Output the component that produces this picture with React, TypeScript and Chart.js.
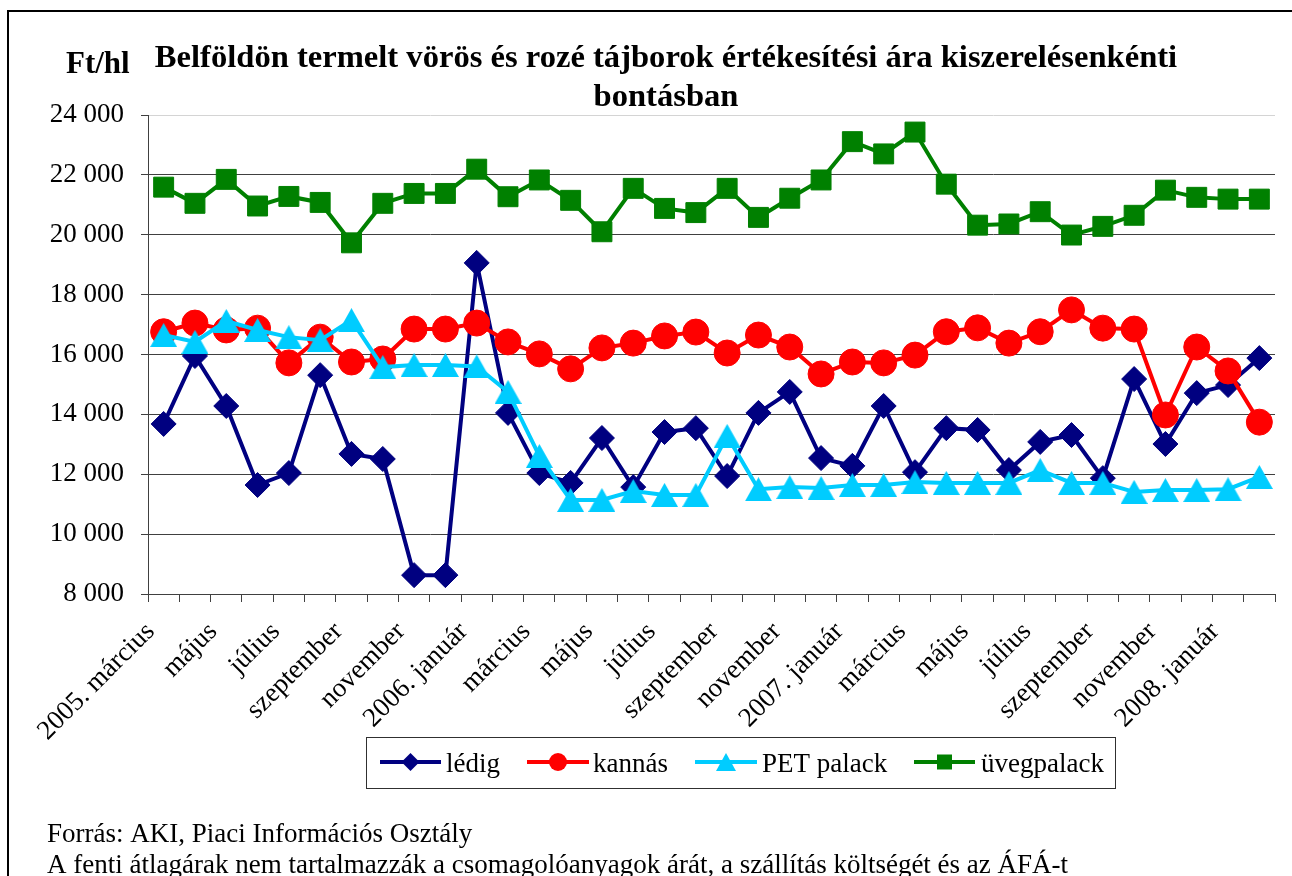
import React, { useEffect, useRef } from 'react';
import { Chart, registerables } from 'chart.js';

Chart.register(...registerables);

const categories = [
  '2005. március', 'április', 'május', 'június', 'július', 'augusztus', 'szeptember', 'október', 'november', 'december',
  '2006. január', 'február', 'március', 'április', 'május', 'június', 'július', 'augusztus', 'szeptember', 'október', 'november', 'december',
  '2007. január', 'február', 'március', 'április', 'május', 'június', 'július', 'augusztus', 'szeptember', 'október', 'november', 'december',
  '2008. január', 'február',
];

const ledig = [13680, 15950, 14280, 11640, 12040, 15310, 12680, 12510, 8630, 8630, 19060, 14050, 12040, 11710, 13210, 11570, 13410, 13540, 11940, 14050, 14750, 12540, 12280, 14280, 12070, 13540, 13480, 12140, 13080, 13310, 11870, 15180, 13010, 14710, 14980, 15880];
const kannas = [16760, 17050, 16820, 16880, 15720, 16580, 15750, 15850, 16850, 16850, 17050, 16420, 16020, 15520, 16220, 16380, 16620, 16750, 16050, 16650, 16250, 15350, 15750, 15720, 15980, 16760, 16890, 16380, 16760, 17490, 16880, 16850, 13980, 16250, 15450, 13740];
const petPalack = [16650, 16420, 17120, 16820, 16580, 16480, 17150, 15580, 15650, 15650, 15600, 14750, 12610, 11140, 11140, 11440, 11310, 11310, 13280, 11500, 11570, 11540, 11640, 11640, 11740, 11710, 11710, 11710, 12140, 11710, 11710, 11410, 11470, 11470, 11500, 11910];
const uvegpalack = [21590, 21050, 21850, 20960, 21280, 21080, 19730, 21050, 21380, 21380, 22190, 21270, 21830, 21150, 20100, 21550, 20880, 20740, 21550, 20580, 21220, 21830, 23110, 22700, 23430, 21690, 20320, 20360, 20770, 19990, 20280, 20650, 21490, 21250, 21190, 21190];

const seriesNames = ['lédig', 'kannás', 'PET palack', 'üvegpalack'];
const seriesColors = ['#000080', '#FF0000', '#00CCFF', '#008000'];

const yMin = 8000;
const yMax = 24000;
const yStep = 2000;

const titleLines = ['Belföldön termelt vörös és rozé tájborok értékesítési ára kiszerelésenkénti', 'bontásban'];
const yUnit = 'Ft/hl';
const footnotes = [
  'Forrás: AKI, Piaci Információs Osztály',
  'A fenti átlagárak nem tartalmazzák a csomagolóanyagok árát, a szállítás költségét és az ÁFÁ-t',
];

const SERIF = "'Liberation Serif', 'Times New Roman', serif";

function makeTriangle(w: number, h: number, color: string): HTMLCanvasElement {
  const c = document.createElement('canvas');
  c.width = w;
  c.height = h;
  const g = c.getContext('2d')!;
  g.fillStyle = color;
  g.beginPath();
  g.moveTo(w / 2, 0);
  g.lineTo(w, h);
  g.lineTo(0, h);
  g.closePath();
  g.fill();
  return c;
}

function fmt(v: number): string {
  const th = Math.floor(v / 1000);
  const rest = String(v % 1000).padStart(3, '0');
  return th > 0 ? `${th} ${rest}` : String(v);
}

function drawMarker(ctx: CanvasRenderingContext2D, idx: number, cx: number, cy: number) {
  const color = seriesColors[idx];
  ctx.fillStyle = color;
  ctx.beginPath();
  if (idx === 0) {
    const r = 9;
    ctx.moveTo(cx, cy - r);
    ctx.lineTo(cx + r, cy);
    ctx.lineTo(cx, cy + r);
    ctx.lineTo(cx - r, cy);
    ctx.closePath();
  } else if (idx === 1) {
    ctx.arc(cx, cy, 9, 0, Math.PI * 2);
  } else if (idx === 2) {
    const w = 20, h = 18;
    ctx.moveTo(cx, cy - h / 2);
    ctx.lineTo(cx + w / 2, cy + h / 2);
    ctx.lineTo(cx - w / 2, cy + h / 2);
    ctx.closePath();
  } else {
    ctx.rect(cx - 7.5, cy - 7.5, 15, 15);
  }
  ctx.fill();
}

const decorPlugin = {
  id: 'decor',
  afterDraw(chart: any) {
    const ctx: CanvasRenderingContext2D = chart.ctx;
    ctx.save();
    // outer border
    ctx.strokeStyle = '#000';
    ctx.lineWidth = 2;
    ctx.beginPath();
    ctx.moveTo(8, 876);
    ctx.lineTo(8, 11);
    ctx.lineTo(1292, 11);
    ctx.stroke();

    // unit label
    ctx.fillStyle = '#000';
    ctx.textBaseline = 'alphabetic';
    ctx.textAlign = 'left';
    ctx.font = `bold 31px ${SERIF}`;
    ctx.fillText(yUnit, 66, 73);

    // title
    ctx.textAlign = 'center';
    ctx.font = `bold 32.6px ${SERIF}`;
    ctx.fillText(titleLines[0], 666, 67);
    ctx.fillText(titleLines[1], 666, 106);

    // legend
    const lx0 = 366, ly0 = 737, lx1 = 1115, ly1 = 788;
    ctx.fillStyle = '#fff';
    ctx.fillRect(lx0, ly0, lx1 - lx0, ly1 - ly0);
    ctx.strokeStyle = '#303030';
    ctx.lineWidth = 1;
    ctx.strokeRect(lx0 + 0.5, ly0 + 0.5, lx1 - lx0, ly1 - ly0);
    const entries = [
      { a: 380, b: 441, t: 446 },
      { a: 527, b: 589, t: 593 },
      { a: 695, b: 757, t: 762 },
      { a: 914, b: 975, t: 981 },
    ];
    const cy = 762;
    ctx.font = `27px ${SERIF}`;
    ctx.textAlign = 'left';
    entries.forEach((e, i) => {
      ctx.strokeStyle = seriesColors[i];
      ctx.lineWidth = 4;
      ctx.beginPath();
      ctx.moveTo(e.a, cy);
      ctx.lineTo(e.b, cy);
      ctx.stroke();
      drawMarker(ctx, i, (e.a + e.b) / 2, cy);
      ctx.fillStyle = '#000';
      ctx.fillText(seriesNames[i], e.t, 772);
    });

    // footnotes
    ctx.fillStyle = '#000';
    ctx.font = `27px ${SERIF}`;
    ctx.fillText(footnotes[0], 47, 842);
    ctx.fillText(footnotes[1], 47, 873);
    ctx.restore();
  },
};

export default function App() {
  const ref = useRef<HTMLCanvasElement | null>(null);

  useEffect(() => {
    if (!ref.current) return;
    const tri = makeTriangle(27, 24, seriesColors[2]);
    const data = [ledig, kannas, petPalack, uvegpalack];
    const styles: any[] = ['rectRot', 'circle', tri, 'rect'];
    const radii = [12.5, 13, 13, 14.1];
    const orders = [3, 2, 1, 0];
    const chart = new Chart(ref.current, {
      type: 'line',
      data: {
        labels: categories,
        datasets: data.map((d, i) => ({
          label: seriesNames[i],
          data: d,
          borderColor: seriesColors[i],
          backgroundColor: seriesColors[i],
          borderWidth: 4,
          pointStyle: styles[i],
          pointRadius: radii[i],
          pointBorderWidth: 1,
          pointBorderColor: seriesColors[i],
          pointBackgroundColor: seriesColors[i],
          tension: 0,
          fill: false,
          order: orders[i],
        })),
      },
      options: {
        responsive: false,
        animation: false,
        events: [],
        layout: { padding: { left: 0, top: 115, right: 17, bottom: 122 } },
        plugins: {
          legend: { display: false },
          title: { display: false },
          tooltip: { enabled: false },
        },
        scales: {
          x: {
            type: 'category',
            offset: true,
            grid: {
              offset: true,
              drawOnChartArea: false,
              drawTicks: true,
              tickLength: 8,
              tickColor: '#404040',
              lineWidth: 1,
            },
            border: { display: true, color: '#404040', width: 1 },
            ticks: {
              autoSkip: false,
              maxRotation: 45,
              minRotation: 45,
              padding: 14,
              labelOffset: -13,
              color: '#000',
              font: { family: SERIF, size: 27 },
              callback: (_v: any, i: number) => (i % 2 === 0 ? categories[i] : ''),
            },
            afterFit: (s: any) => {
              s.height = 160;
              s.paddingLeft = 0;
              s.paddingRight = 0;
            },
          },
          y: {
            min: yMin,
            max: yMax,
            ticks: {
              stepSize: yStep,
              padding: 17,
              color: '#000',
              font: { family: SERIF, size: 27 },
              callback: (v: any) => fmt(Number(v)),
            },
            grid: {
              color: (c: any) => (c.tick && c.tick.value === yMax ? '#d4d4d4' : '#404040'),
              lineWidth: 1,
              drawTicks: true,
              tickLength: 7,
              tickColor: '#404040',
            },
            border: { display: true, color: '#404040', width: 1 },
            afterFit: (s: any) => {
              s.width = 148;
              s.paddingTop = 0;
              s.paddingBottom = 0;
            },
          },
        },
      },
      plugins: [decorPlugin],
    } as any);
    return () => chart.destroy();
  }, []);

  return (
    <div style={{ position: 'fixed', left: 0, top: 0, width: 1292, height: 876, background: '#fff' }}>
      <canvas ref={ref} width={1292} height={876} style={{ display: 'block' }} />
    </div>
  );
}
